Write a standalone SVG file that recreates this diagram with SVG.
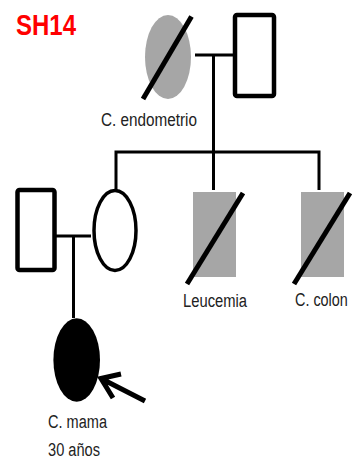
<svg xmlns="http://www.w3.org/2000/svg" width="356" height="464" viewBox="0 0 356 464">
<style>
.lbl{font-family:"Liberation Sans",Arial,sans-serif;font-size:18px;fill:#222}
.title{font-family:"Liberation Sans",Arial,sans-serif;font-size:30px;font-weight:bold;fill:#ff0000}
.conn{stroke:#000;stroke-width:3;fill:none}
.male{fill:#fff;stroke:#000;stroke-width:4.5}
.female{fill:#fff;stroke:#000;stroke-width:3.5}
.aff{fill:#a6a6a6;stroke:none}
.dead{stroke:#000;stroke-width:5;fill:none}
</style>
<rect width="356" height="464" fill="#fff"/>
<text class="title" x="16" y="35" textLength="60" lengthAdjust="spacingAndGlyphs">SH14</text>
<g id="connectors">
<line class="conn" x1="195" y1="55" x2="233" y2="55"/>
<line class="conn" x1="213.5" y1="55" x2="213.5" y2="152"/>
<polyline class="conn" points="116,190 116,152 319,152 319,190"/>
<line class="conn" x1="213.5" y1="152" x2="213.5" y2="190"/>
<line class="conn" x1="56" y1="236" x2="91" y2="236"/>
<line class="conn" x1="73.5" y1="236" x2="73.5" y2="318"/>
</g>
<g id="grandmother">
<ellipse class="aff" cx="168" cy="57" rx="23" ry="42"/>
<line class="dead" x1="191.5" y1="16.5" x2="143" y2="99"/>
<text class="lbl" x="101" y="126" textLength="96" lengthAdjust="spacingAndGlyphs">C. endometrio</text>
</g>
<g id="grandfather">
<rect class="male" x="235" y="15" width="39" height="81" rx="2"/>
</g>
<g id="husband">
<rect class="male" x="17.5" y="190" width="37" height="80" rx="2"/>
</g>
<g id="mother">
<ellipse class="female" cx="115" cy="230.5" rx="21" ry="40"/>
</g>
<g id="uncle1">
<rect class="aff" x="193" y="192" width="43" height="85"/>
<line class="dead" x1="243" y1="193" x2="187" y2="284"/>
<text class="lbl" x="183" y="307" textLength="64" lengthAdjust="spacingAndGlyphs">Leucemia</text>
</g>
<g id="uncle2">
<rect class="aff" x="301" y="192" width="43" height="85"/>
<line class="dead" x1="350" y1="193" x2="294" y2="284"/>
<text class="lbl" transform="translate(295,306) scale(0.8,1)" x="0" y="0">C. colon</text>
</g>
<g id="proband">
<ellipse cx="76.7" cy="360" rx="23.3" ry="41.7" fill="#000"/>
<path d="M121,374 L101,378.5 L113,398 M101,378.5 L145,401" stroke="#000" stroke-width="5" fill="none"/>
<text class="lbl" x="48" y="428" textLength="59" lengthAdjust="spacingAndGlyphs">C. mama</text>
<text class="lbl" x="48" y="456" textLength="52" lengthAdjust="spacingAndGlyphs">30 años</text>
</g>
</svg>
